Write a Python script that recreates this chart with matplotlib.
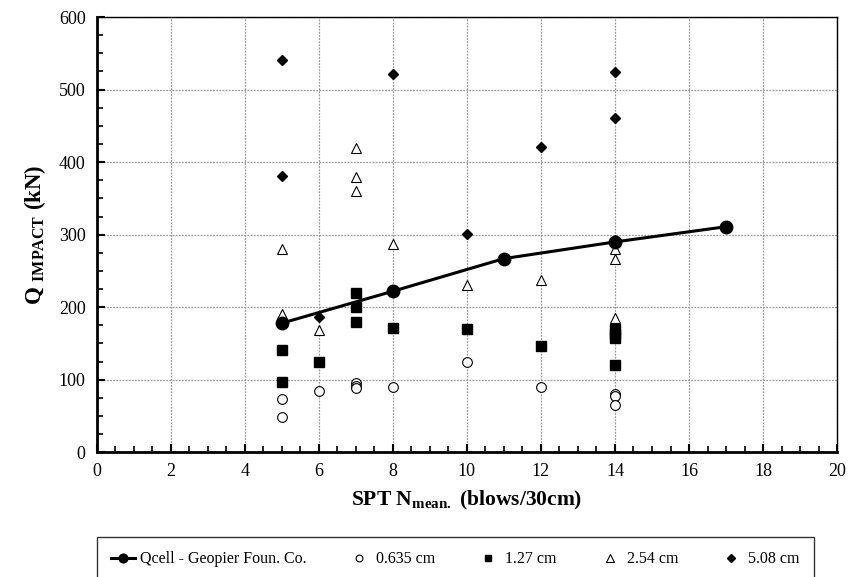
import numpy as np
import matplotlib.pyplot as plt

plt.rcParams['font.family'] = ['Liberation Serif', 'DejaVu Serif']
plt.rcParams['mathtext.fontset'] = 'custom'
plt.rcParams['mathtext.rm'] = 'Liberation Serif'
plt.rcParams['mathtext.bf'] = 'Liberation Serif:bold'

# Qcell - Geopier line
q_x = [5, 8, 11, 14, 17]
q_y = [178, 222, 267, 290, 311]

# 0.635 cm
c1_x = [5, 5, 6, 7, 7, 7, 8, 10, 12, 14, 14, 14]
c1_y = [48, 74, 85, 95, 91, 88, 90, 125, 90, 81, 77, 65]

# 1.27 cm
c2_x = [5, 5, 6, 7, 7, 7, 8, 10, 12, 14, 14, 14, 14]
c2_y = [97, 141, 125, 220, 200, 180, 171, 170, 147, 170, 163, 157, 120]

# 2.54 cm
c3_x = [5, 5, 6, 7, 7, 7, 8, 10, 12, 14, 14, 14]
c3_y = [190, 280, 168, 420, 380, 360, 287, 231, 237, 280, 266, 185]

# 5.08 cm
c4_x = [5, 5, 6, 8, 10, 12, 14, 14, 14]
c4_y = [541, 381, 186, 521, 301, 421, 524, 461, 292]

fig = plt.figure(figsize=(8.5, 5.77), dpi=100)
ax = fig.add_axes([0.1138, 0.2161, 0.871, 0.7544])

ax.plot(c1_x, c1_y, 'o', mfc='white', mec='black', ms=7, mew=0.8, ls='none', label='0.635 cm', zorder=3)
ax.plot(c2_x, c2_y, 's', mfc='black', mec='black', ms=7, ls='none', label='1.27 cm', zorder=3)
ax.plot(c3_x, c3_y, '^', mfc='white', mec='black', ms=7.5, mew=0.8, ls='none', label='2.54 cm', zorder=3)
ax.plot(c4_x, c4_y, 'D', mfc='black', mec='black', ms=5.5, ls='none', label='5.08 cm', zorder=3)
ax.plot(q_x, q_y, '-o', color='black', lw=2.2, ms=9, label='Qcell - Geopier Foun. Co.', zorder=4)

ax.set_xlim(0, 20)
ax.set_ylim(0, 600)
ax.set_xticks(np.arange(0, 21, 2))
ax.set_yticks(np.arange(0, 601, 100))
ax.set_xticks(np.arange(0, 20.01, 0.5), minor=True)
ax.set_yticks(np.arange(0, 601, 25), minor=True)
ax.tick_params(which='major', direction='in', length=6, width=1.5, labelsize=13, pad=8)
ax.tick_params(which='minor', direction='in', length=4, width=1.2)
ax.grid(True, which='major', color='#9a9a9a', ls=(0, (1.5, 1)), lw=0.9)
for s in ['left', 'bottom']:
    ax.spines[s].set_linewidth(2)
for s in ['top', 'right']:
    ax.spines[s].set_linewidth(1)

ax.set_xlabel(r'SPT N$_{\mathbf{mean.}}$ (blows/30cm)', fontsize=15.5, fontweight='bold', labelpad=6)
ax.set_ylabel(r'Q $_{\mathbf{IMPACT}}$ (kN)', fontsize=16.5, fontweight='bold', labelpad=8)

h, l = ax.get_legend_handles_labels()
order = [4, 0, 1, 2, 3]
leg = fig.legend([h[i] for i in order], [l[i] for i in order], ncol=5, loc='lower left',
                 bbox_to_anchor=(0.1138, -0.008, 0.8435, 0.08), mode='expand', borderaxespad=0,
                 fontsize=11.5, frameon=True, fancybox=False, edgecolor='black',
                 handlelength=1.5, handletextpad=0.3, markerscale=0.7, borderpad=0.9)
leg.get_frame().set_linewidth(1)

fig.savefig('out.png', dpi=100)
